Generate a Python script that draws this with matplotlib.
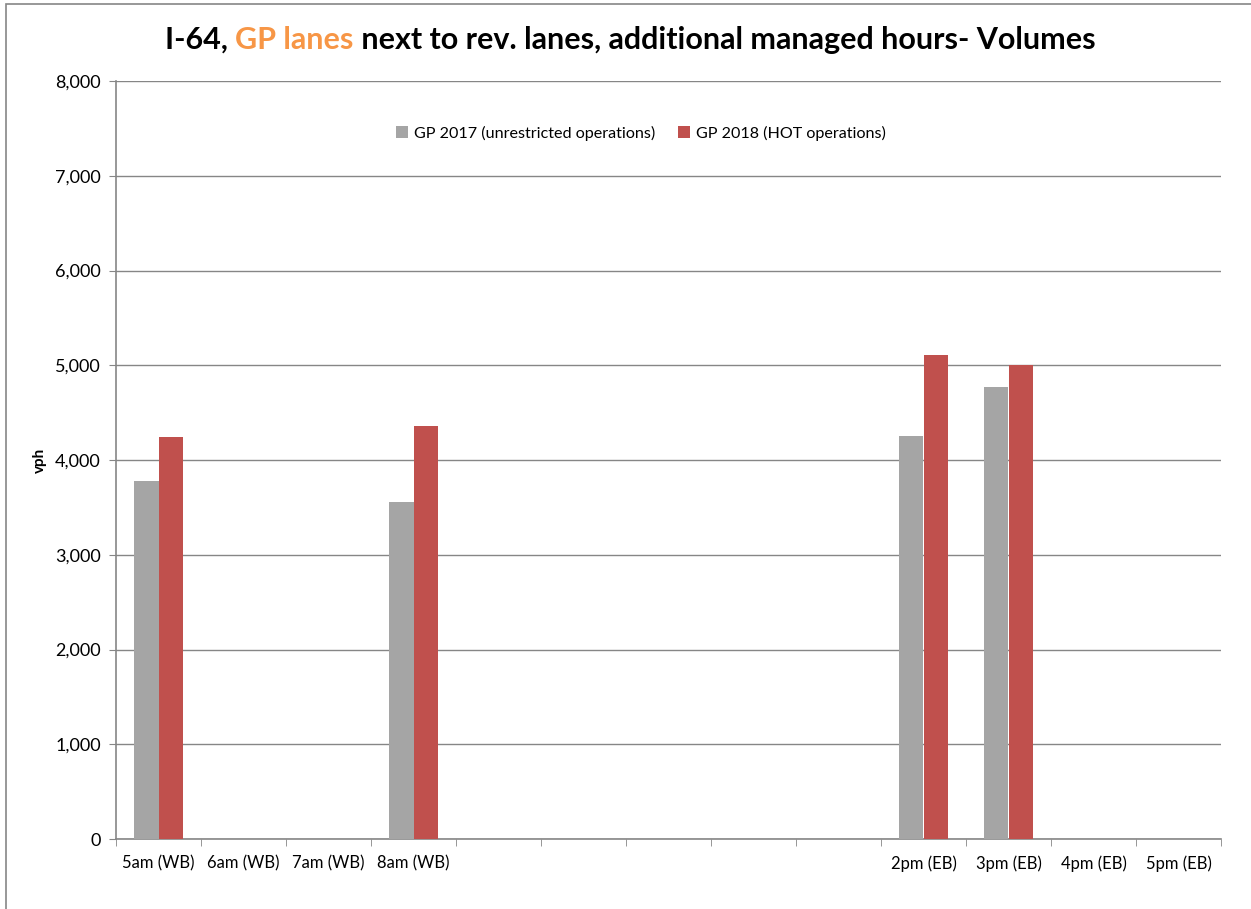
import numpy as np
import matplotlib
matplotlib.use("Agg")
from matplotlib import pyplot as plt
from matplotlib.patches import Rectangle
from matplotlib.offsetbox import TextArea, HPacker, AnnotationBbox

plt.rcParams['font.family'] = ['Lato', 'DejaVu Sans']

# data
categories = ['5am (WB)', '6am (WB)', '7am (WB)', '8am (WB)', '', '', '', '', '',
              '2pm (EB)', '3pm (EB)', '4pm (EB)', '5pm (EB)']
gp_2017 = [3780, 0, 0, 3560, 0, 0, 0, 0, 0, 4250, 4770, 0, 0]
gp_2018 = [4240, 0, 0, 4360, 0, 0, 0, 0, 0, 5110, 5000, 0, 0]
series_names = ['GP 2017 (unrestricted operations)', 'GP 2018 (HOT operations)']
y_ticks = [0, 1000, 2000, 3000, 4000, 5000, 6000, 7000, 8000]

grey = '#A5A5A5'
red = '#C0504D'
axis_col = '#868686'

W, H = 1251, 909
fig = plt.figure(figsize=(W / 100, H / 100), dpi=100)
ax = fig.add_axes([116 / W, 1 - 839 / H, (1221 - 116) / W, (839 - 81) / H])

# outer chart frame (only top/left visible in the reference)
fig.patches.append(Rectangle((6 / W, -0.1), 1.2, 1 - 4 / H + 0.1,
                             transform=fig.transFigure, fill=False,
                             edgecolor=axis_col, lw=1.2))

x = np.arange(len(categories))
bw = 0.286
ax.bar(x - bw / 2, gp_2017, bw, color=grey, label=series_names[0], zorder=3)
ax.bar(x + bw / 2, gp_2018, bw, color=red, label=series_names[1], zorder=3)

ax.set_xlim(-0.5, len(categories) - 0.5)
ax.set_ylim(0, 8000)
ax.set_yticks(y_ticks)
ax.set_yticklabels([f'{v:,}' for v in y_ticks], fontsize=13)
ax.yaxis.grid(True, color=axis_col, lw=1, zorder=0)

ax.set_xticks(x)
ax.set_xticklabels(categories, fontsize=12)
ax.set_xticks(np.arange(len(categories) + 1) - 0.5, minor=True)
ax.tick_params(axis='x', which='major', length=0, pad=12)
ax.tick_params(axis='x', which='minor', length=5, color=axis_col, direction='out')
ax.tick_params(axis='y', length=5, color=axis_col, direction='out', pad=6)

for s in ['top', 'right']:
    ax.spines[s].set_visible(False)
for s in ['left', 'bottom']:
    ax.spines[s].set_color(axis_col)
    ax.spines[s].set_linewidth(1.2)

ax.set_ylabel('vph', fontsize=11, fontweight='bold', labelpad=6)

ax.legend(loc='upper center', bbox_to_anchor=(0.475, 0.96), ncol=2, frameon=False,
          fontsize=11.6, handlelength=0.75, handleheight=0.75, columnspacing=1.4,
          handletextpad=0.4)

# title with coloured fragment
parts = [('I-64, ', 'black'), ('GP lanes', '#F79646'),
         (' next to rev. lanes, additional managed hours- Volumes', 'black')]
boxes = [TextArea(t, textprops=dict(color=c, fontsize=22, fontweight='bold'))
         for t, c in parts]
pack = HPacker(children=boxes, align='baseline', pad=0, sep=0)
ab = AnnotationBbox(pack, (630 / W, 1 - 40 / H), xycoords='figure fraction',
                    frameon=False, box_alignment=(0.5, 0.5))
fig.add_artist(ab)

fig.savefig('out.png', dpi=100)
